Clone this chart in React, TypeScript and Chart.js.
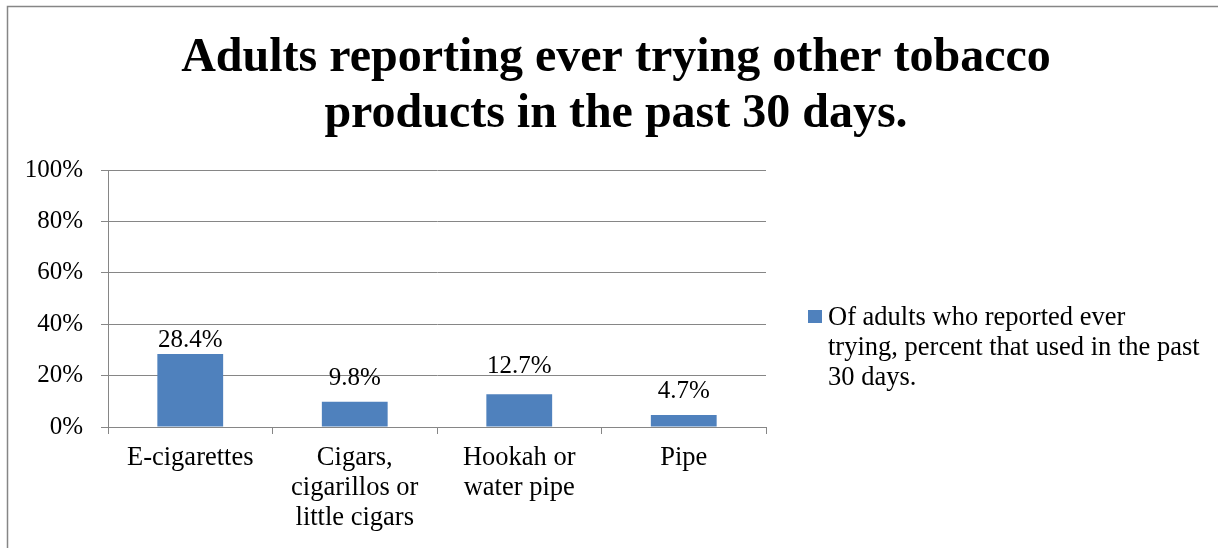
import React, { useEffect, useRef } from "react";
import { Chart, registerables } from "chart.js";

Chart.register(...registerables);

const titleLines = ["Adults reporting ever trying other tobacco", "products in the past 30 days."];
const categories: (string | string[])[] = [
  "E-cigarettes",
  ["Cigars,", "cigarillos or", "little cigars"],
  ["Hookah or", "water pipe"],
  "Pipe",
];
const values = [28.4, 9.8, 12.7, 4.7];
const valueLabels = ["28.4%", "9.8%", "12.7%", "4.7%"];
const yTicks = [0, 20, 40, 60, 80, 100];
const seriesNameLines = ["Of adults who reported ever", "trying, percent that used in the past", "30 days."];

// style-only: gap (px) between bar top and its value label baseline
const labelGaps = [7, 17, 21, 17];

const FONT = '"Liberation Serif", "Times New Roman", serif';
const GRAY = "#868686";
const BAR = "#4F81BD";

export default function App() {
  const ref = useRef<HTMLCanvasElement | null>(null);

  useEffect(() => {
    const canvas = ref.current;
    if (!canvas) return;

    const framePlugin = {
      id: "frame",
      beforeDraw(chart: any) {
        const ctx = chart.ctx;
        ctx.save();
        ctx.fillStyle = "#ffffff";
        ctx.fillRect(0, 0, chart.width, chart.height);
        ctx.strokeStyle = GRAY;
        ctx.lineWidth = 1.5;
        ctx.beginPath();
        ctx.moveTo(7.5, chart.height + 2);
        ctx.lineTo(7.5, 6.5);
        ctx.lineTo(chart.width + 2, 6.5);
        ctx.stroke();
        // title, centred on the whole frame
        ctx.fillStyle = "#000";
        ctx.font = `bold 48px ${FONT}`;
        ctx.textAlign = "center";
        ctx.textBaseline = "alphabetic";
        titleLines.forEach((line, i) => {
          ctx.fillText(line, 616, 71 + i * 56);
        });
        ctx.restore();
      },
    };

    const labelsPlugin = {
      id: "valueLabels",
      afterDatasetsDraw(chart: any) {
        const ctx = chart.ctx;
        const meta = chart.getDatasetMeta(0);
        ctx.save();
        ctx.font = `25px ${FONT}`;
        ctx.fillStyle = "#000";
        ctx.textAlign = "center";
        ctx.textBaseline = "alphabetic";
        meta.data.forEach((bar: any, i: number) => {
          ctx.fillText(valueLabels[i], bar.x, bar.y - labelGaps[i]);
        });
        ctx.restore();
      },
    };

    const legendPlugin = {
      id: "sideLegend",
      afterDraw(chart: any) {
        const ctx = chart.ctx;
        ctx.save();
        const boxX = 808;
        const boxY = 310;
        ctx.fillStyle = BAR;
        ctx.fillRect(boxX, boxY, 14, 13);
        ctx.fillStyle = "#000";
        ctx.font = `26.5px ${FONT}`;
        ctx.textAlign = "left";
        ctx.textBaseline = "alphabetic";
        seriesNameLines.forEach((line, i) => {
          ctx.fillText(line, boxX + 20, 325 + i * 30);
        });
        ctx.restore();
      },
    };

    const chart = new Chart(canvas, {
      type: "bar",
      data: {
        labels: categories as any,
        datasets: [
          {
            label: seriesNameLines.join(" "),
            data: values,
            backgroundColor: BAR,
            borderWidth: 0,
            barPercentage: 0.8,
            categoryPercentage: 0.5,
          },
        ],
      },
      options: {
        animation: false,
        responsive: false,
        maintainAspectRatio: false,
        layout: { padding: { left: 0, right: 452, top: 170, bottom: 0 } },
        plugins: {
          legend: { display: false },
          tooltip: { enabled: false },
          title: { display: false },
        },
        scales: {
          x: {
            grid: {
              display: true,
              drawOnChartArea: false,
              drawTicks: true,
              tickLength: 7,
              color: GRAY,
              offset: true,
            },
            border: { display: true, color: GRAY, width: 1 },
            ticks: {
              color: "#000",
              font: { family: FONT, size: 26.5, lineHeight: 1.132 },
              padding: 9,
              maxRotation: 0,
              autoSkip: false,
            },
            afterFit(scale: any) {
              scale.height = 121;
            },
          },
          y: {
            min: yTicks[0],
            max: yTicks[yTicks.length - 1],
            grid: {
              color: GRAY,
              tickLength: 7,
              drawTicks: true,
            },
            border: { display: true, color: GRAY, width: 1 },
            ticks: {
              stepSize: yTicks[1] - yTicks[0],
              color: "#000",
              font: { family: FONT, size: 25 },
              padding: 18,
              callback: (v: any) => `${v}%`,
            },
            afterFit(scale: any) {
              scale.width = 108;
            },
          },
        },
      },
      plugins: [framePlugin, labelsPlugin, legendPlugin],
    });

    return () => chart.destroy();
  }, []);

  return (
    <div style={{ position: "absolute", left: 0, top: 0, width: 1218, height: 548, background: "#fff" }}>
      <canvas ref={ref} width={1218} height={548} style={{ display: "block" }} />
    </div>
  );
}
